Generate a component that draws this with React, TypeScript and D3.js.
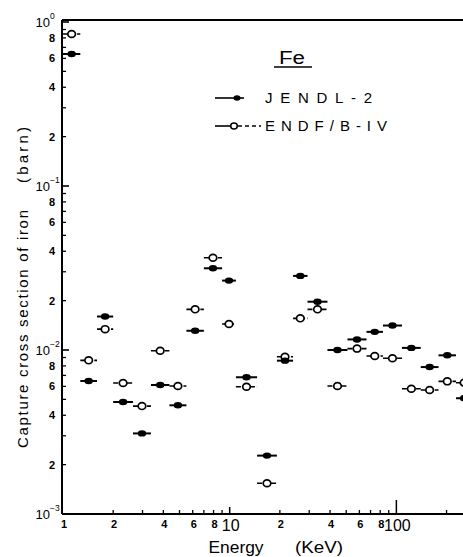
import React from "react";
import * as d3 from "d3";

// Energy group boundaries (keV)
const binEdges = [1.0, 1.27, 1.6, 2.0, 2.63, 3.37, 4.35, 5.5, 7.0, 9.0, 10.9, 14.6, 19.2, 24.0, 29.3, 38.6, 50.9, 66.2, 83.1, 108, 140, 179, 228, 285];
// Capture cross section (barn)
const jendl2 = [0.638, 6.47e-3, 1.6e-2, 4.82e-3, 3.1e-3, 6.12e-3, 4.6e-3, 1.31e-2, 3.15e-2, 2.65e-2, 6.82e-3, 2.27e-3, 8.61e-3, 2.83e-2, 1.97e-2, 1.0e-2, 1.16e-2, 1.29e-2, 1.41e-2, 1.03e-2, 7.87e-3, 9.28e-3, 5.08e-3];
const endfb4 = [0.845, 8.65e-3, 1.34e-2, 6.29e-3, 4.55e-3, 9.9e-3, 6.03e-3, 1.77e-2, 3.65e-2, 1.44e-2, 5.97e-3, 1.54e-3, 9.1e-3, 1.56e-2, 1.77e-2, 6.03e-3, 1.02e-2, 9.19e-3, 8.9e-3, 5.81e-3, 5.7e-3, 6.44e-3, 6.32e-3];

const xTickLabels = [
  { v: 1, t: "1", big: false },
  { v: 2, t: "2", big: false },
  { v: 4, t: "4", big: false },
  { v: 6, t: "6", big: false },
  { v: 8, t: "8", big: false },
  { v: 10, t: "10", big: true },
  { v: 20, t: "2", big: false },
  { v: 40, t: "4", big: false },
  { v: 60, t: "6", big: false },
  { v: 80, t: "8", big: false },
  { v: 100, t: "100", big: true },
];
const yDecades = [
  { v: 1, sup: "0" },
  { v: 0.1, sup: "\u22121" },
  { v: 0.01, sup: "\u22122" },
  { v: 0.001, sup: "\u22123" },
];
const yMinorLabels = [2, 4, 6, 8];

const W = 463;
const H = 557;
const L = 62;
const R = 463;
const T = 22;
const B = 514;

export default function App() {
  const x = d3.scaleLog().domain([1, 251]).range([63, 463]);
  const y = d3.scaleLog().domain([1e-3, 1]).range([B, T]);

  const bins = jendl2.map((_, i) => {
    const lo = binEdges[i];
    const hi = binEdges[i + 1];
    return { lo, hi, mid: Math.sqrt(lo * hi) };
  });

  const minorX: number[] = [];
  [1, 10, 100].forEach((d) => {
    for (let k = 2; k <= 9; k++) minorX.push(d * k);
  });
  const minorY: number[] = [];
  [0.001, 0.01, 0.1].forEach((d) => {
    for (let k = 2; k <= 9; k++) minorY.push(d * k);
  });

  const bold = { fontFamily: "Liberation Sans, Arial, sans-serif", fontWeight: 700 as const };
  const reg = { fontFamily: "Liberation Sans, Arial, sans-serif" };

  return (
    <svg width={W} height={H} style={{ position: "absolute", left: 0, top: 0, background: "#fff" }}>
      {/* frame */}
      <line x1={L} y1={T - 2} x2={R} y2={T - 2} stroke="#000" strokeWidth={1.8} />
      <line x1={L} y1={T - 2} x2={L} y2={B} stroke="#000" strokeWidth={2} />
      <line x1={L} y1={B} x2={R} y2={B} stroke="#000" strokeWidth={2} />

      {/* y ticks */}
      {minorY.map((v) => (
        <line key={"ym" + v} x1={L} x2={L + 4} y1={y(v)} y2={y(v)} stroke="#000" strokeWidth={1.3} />
      ))}
      {yDecades.map((d) => (
        <line key={"yM" + d.v} x1={L} x2={L + 7} y1={y(d.v)} y2={y(d.v)} stroke="#000" strokeWidth={1.6} />
      ))}
      {[0.001, 0.01, 0.1].map((d) =>
        yMinorLabels.map((k) => (
          <text key={"yl" + d * k} x={55} y={y(d * k)} dy="0.36em" textAnchor="end" fontSize={11} {...bold}>
            {k}
          </text>
        ))
      )}
      {yDecades.map((d) => (
        <g key={"yd" + d.v}>
          <text x={50} y={y(d.v)} dy="0.42em" textAnchor="end" fontSize={13} {...reg}>
            10
          </text>
          <text x={50} y={y(d.v) - 3} textAnchor="start" fontSize={8.5} {...reg}>
            {d.sup}
          </text>
        </g>
      ))}

      {/* x ticks */}
      {minorX.map((v) => (
        <line key={"xm" + v} x1={x(v)} x2={x(v)} y1={B} y2={B - 4} stroke="#000" strokeWidth={1.3} />
      ))}
      {[10, 100].map((v) => (
        <line key={"xM" + v} x1={x(v)} x2={x(v)} y1={B} y2={B - (v === 100 ? 14 : 7)} stroke="#000" strokeWidth={1.5} />
      ))}
      {xTickLabels.map((d) =>
        d.big ? (
          <text key={"xl" + d.v} x={x(d.v) + 1} y={531} textAnchor="middle" fontSize={16} {...reg}>
            {d.t}
          </text>
        ) : (
          <text key={"xl" + d.v} x={x(d.v) + 1} y={528} textAnchor="middle" fontSize={11} {...bold}>
            {d.t}
          </text>
        )
      )}

      {/* axis titles */}
      <text x={236} y={553} textAnchor="middle" fontSize={16} textLength={55} lengthAdjust="spacingAndGlyphs" {...reg}>
        Energy
      </text>
      <text x={319} y={553} textAnchor="middle" fontSize={16} textLength={48} lengthAdjust="spacingAndGlyphs" {...reg}>
        (KeV)
      </text>
      <text transform="translate(28,448) rotate(-90)" textAnchor="start" fontSize={15} textLength={238} {...reg}>
        Capture cross section of iron
      </text>
      <text transform="translate(28,183) rotate(-90)" textAnchor="start" fontSize={15} textLength={56} {...reg}>
        (barn)
      </text>

      {/* ENDF/B-IV: open markers, dashed bars */}
      {bins.map((b, i) => (
        <g key={"e" + i}>
          <line x1={x(b.lo)} x2={x(b.hi)} y1={y(endfb4[i])} y2={y(endfb4[i])} stroke="#000" strokeWidth={1.6} strokeDasharray="5,2" />
          <ellipse cx={x(b.mid)} cy={y(endfb4[i])} rx={3.8} ry={3.4} fill="#fff" stroke="#000" strokeWidth={1.7} />
        </g>
      ))}
      {/* JENDL-2: filled markers, solid bars */}
      {bins.map((b, i) => (
        <g key={"j" + i}>
          <line x1={x(b.lo)} x2={x(b.hi)} y1={y(jendl2[i])} y2={y(jendl2[i])} stroke="#000" strokeWidth={2} />
          <ellipse cx={x(b.mid)} cy={y(jendl2[i])} rx={4.2} ry={3.2} fill="#000" />
        </g>
      ))}

      {/* legend */}
      <text x={292} y={64} textAnchor="middle" fontSize={18} textLength={26} lengthAdjust="spacingAndGlyphs" {...reg}>
        Fe
      </text>
      <line x1={274} x2={312} y1={67} y2={67} stroke="#000" strokeWidth={1.5} />
      <line x1={215} x2={244} y1={98} y2={98} stroke="#000" strokeWidth={1.6} />
      <ellipse cx={237} cy={98} rx={3.5} ry={2.8} fill="#000" />
      <text x={265} y={103} fontSize={15} textLength={107} {...reg}>
        JENDL-2
      </text>
      <line x1={215} x2={230} y1={126} y2={126} stroke="#000" strokeWidth={1.6} />
      <line x1={238} x2={261} y1={126} y2={126} stroke="#000" strokeWidth={1.6} strokeDasharray="4,3" />
      <ellipse cx={234} cy={126} rx={3.3} ry={3} fill="#fff" stroke="#000" strokeWidth={1.5} />
      <text x={265} y={131} fontSize={15} textLength={122} {...reg}>
        ENDF/B-IV
      </text>
    </svg>
  );
}
